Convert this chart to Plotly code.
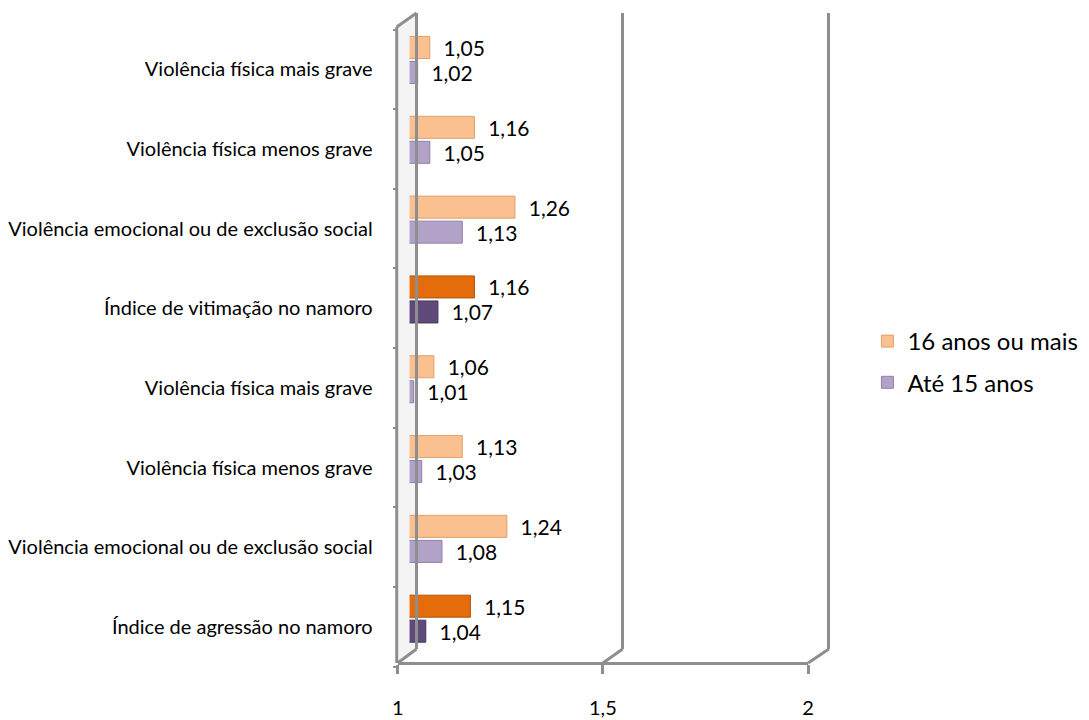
import plotly.graph_objects as go

# ---------------- data ----------------
categories = [
    "Violência física mais grave",
    "Violência física menos grave",
    "Violência emocional ou de exclusão social",
    "Índice de vitimação no namoro",
    "Violência física mais grave",
    "Violência física menos grave",
    "Violência emocional ou de exclusão social",
    "Índice de agressão no namoro",
]
values_16_mais = [1.05, 1.16, 1.26, 1.16, 1.06, 1.13, 1.24, 1.15]
values_ate_15 = [1.02, 1.05, 1.13, 1.07, 1.01, 1.03, 1.08, 1.04]
is_index = [False, False, False, True, False, False, False, True]
series_names = ["16 anos ou mais", "Até 15 anos"]
tick_vals = [1, 1.5, 2]
tick_text = ["1", "1,5", "2"]

# ---------------- styling / layout constants ----------------
W, H = 1089, 720
OFF = 8                       # default page body margin
FW, FH = W - OFF, H - OFF
FONT = "Lato"
GRID = "#8E8E8E"

def px(x):
    return (x - OFF) / FW

def py(y):
    return 1 - (y - OFF) / FH

X0, X1 = tick_vals[0], tick_vals[-1]
BACK_X = (415, 832)     # back plane (gridlines)
FRONT_X = (396, 811)    # front plane (axis labels)
BAR_X = (408, 818)      # bar plane
BACK_Y = (13, 649)
FRONT_Y = (27, 663)

def lin(v, span):
    return span[0] + (v - X0) * (span[1] - span[0]) / (X1 - X0)

n = len(categories)
pos = [n - 1 - i for i in range(n)]

def fmt(v):
    return "\u00a0\u00a0" + f"{v:.2f}".replace(".", ",")

orange_light, orange_dark = "#FAC090", "#E46C0A"
orange_light_l, orange_dark_l = "#E0A06A", "#B35408"
purple_light, purple_dark = "#B3A2C7", "#604A7B"
purple_light_l, purple_dark_l = "#9180AA", "#46365A"

fig = go.Figure()

fig.add_trace(go.Bar(
    y=pos, x=values_ate_15, orientation="h", name=series_names[1],
    legendgroup="b", legendrank=2,
    marker=dict(color=[purple_dark if k else purple_light for k in is_index],
                line=dict(color=[purple_dark_l if k else purple_light_l for k in is_index], width=1)),
    text=[fmt(v) for v in values_ate_15], textposition="outside",
    textfont=dict(family=FONT, size=21, color="#000"),
    constraintext="none", cliponaxis=False, hoverinfo="skip",
    xaxis="x", yaxis="y",
))
fig.add_trace(go.Bar(
    y=pos, x=values_16_mais, orientation="h", name=series_names[0],
    legendgroup="a", legendrank=1,
    marker=dict(color=[orange_dark if k else orange_light for k in is_index],
                line=dict(color=[orange_dark_l if k else orange_light_l for k in is_index], width=1)),
    text=[fmt(v) for v in values_16_mais], textposition="outside",
    textfont=dict(family=FONT, size=21, color="#000"),
    constraintext="none", cliponaxis=False, hoverinfo="skip",
    xaxis="x", yaxis="y",
))
# invisible traces carrying the front-plane axes and the back-plane grid
fig.add_trace(go.Scatter(
    x=[X0] * n, y=pos, mode="markers", marker=dict(opacity=0),
    showlegend=False, hoverinfo="skip", xaxis="x2", yaxis="y2",
))
fig.add_trace(go.Scatter(
    x=[X0], y=[0.5], mode="markers", marker=dict(opacity=0),
    showlegend=False, hoverinfo="skip", xaxis="x3", yaxis="y3",
))

shapes = []
line_style = dict(color=GRID, width=3)
# wall strip (light shading between front and back edges)
shapes.append(dict(type="path", xref="paper", yref="paper",
                   path=f"M{px(FRONT_X[0])},{py(FRONT_Y[0])} L{px(BACK_X[0])},{py(BACK_Y[0])} "
                        f"L{px(BACK_X[0])},{py(BACK_Y[1])} L{px(FRONT_X[0])},{py(FRONT_Y[1])} Z",
                   fillcolor="#F4F4F4", line=dict(width=0), layer="below"))
# front-left edge of the wall
shapes.append(dict(type="line", xref="paper", yref="paper",
                   x0=px(FRONT_X[0] - 1), y0=py(FRONT_Y[0]), x1=px(FRONT_X[0] - 1), y1=py(FRONT_Y[1]),
                   line=line_style))
shapes.append(dict(type="line", xref="paper", yref="paper",
                   x0=px(FRONT_X[0] - 1), y0=py(FRONT_Y[0]), x1=px(BACK_X[0]), y1=py(BACK_Y[0]),
                   line=line_style))
# floor diagonals
for v in tick_vals:
    shapes.append(dict(type="line", xref="paper", yref="paper",
                       x0=px(lin(v, FRONT_X)), y0=py(FRONT_Y[1]),
                       x1=px(lin(v, BACK_X)), y1=py(BACK_Y[1]), line=line_style))

# grid axis: pad range slightly so edge gridlines are drawn
pad = 0.02
gscale = (BACK_X[1] - BACK_X[0]) / (X1 - X0)
grid_dom = [px(BACK_X[0] - pad * gscale), px(BACK_X[1] + pad * gscale)]

fig.update_layout(
    width=FW, height=FH, autosize=False,
    margin=dict(l=0, r=0, t=0, b=0),
    paper_bgcolor="white", plot_bgcolor="rgba(0,0,0,0)",
    barmode="group", bargap=0.373, bargroupgap=0.12,
    font=dict(family=FONT, color="#000"),
    showlegend=True,
    legend=dict(x=px(871), y=py(362), xanchor="left", yanchor="middle",
                traceorder="grouped", tracegroupgap=7,
                font=dict(family=FONT, size=24),
                bgcolor="rgba(0,0,0,0)", itemclick=False),
    xaxis=dict(domain=[px(BAR_X[0]), px(BAR_X[1])], range=[X0, X1],
               showticklabels=False, showgrid=False, zeroline=False, showline=False,
               anchor="y", fixedrange=True),
    yaxis=dict(domain=[py(658.6), py(20.1)], range=[-0.5, n - 0.5],
               showticklabels=False, showgrid=False, zeroline=False, showline=False,
               anchor="x", fixedrange=True),
    xaxis3=dict(domain=grid_dom, range=[X0 - pad, X1 + pad], tickvals=tick_vals,
                showticklabels=False, showgrid=True, gridcolor=GRID, gridwidth=3,
                zeroline=False, showline=False, anchor="y3", fixedrange=True),
    yaxis3=dict(domain=[py(BACK_Y[1]), py(BACK_Y[0])], range=[0, 1],
                showticklabels=False, showgrid=False, zeroline=False, showline=False,
                anchor="x3", fixedrange=True),
    xaxis2=dict(domain=[px(FRONT_X[0]), px(FRONT_X[1])], range=[X0, X1],
                tickvals=tick_vals, ticktext=tick_text, anchor="free", position=py(FRONT_Y[1]),
                showline=True, linecolor=GRID, linewidth=3, ticks="outside", ticklen=9,
                tickwidth=3, tickcolor=GRID, showgrid=False, zeroline=False,
                tickfont=dict(family=FONT, size=20), ticklabelstandoff=17, fixedrange=True),
    yaxis2=dict(domain=[py(666.8), py(29.5)], range=[-0.5, n - 0.5],
                tickvals=pos, ticktext=categories, anchor="x2", side="left",
                showline=False, showgrid=False, zeroline=False, ticks="",
                minor=dict(tickvals=[p - 0.5 for p in pos] + [n - 0.5], ticks="outside",
                           ticklen=4, tickwidth=2, tickcolor=GRID, showgrid=False),
                tickfont=dict(family=FONT, size=20), ticklabelstandoff=24, fixedrange=True),
    shapes=shapes,
)

fig.write_html("out.html")
